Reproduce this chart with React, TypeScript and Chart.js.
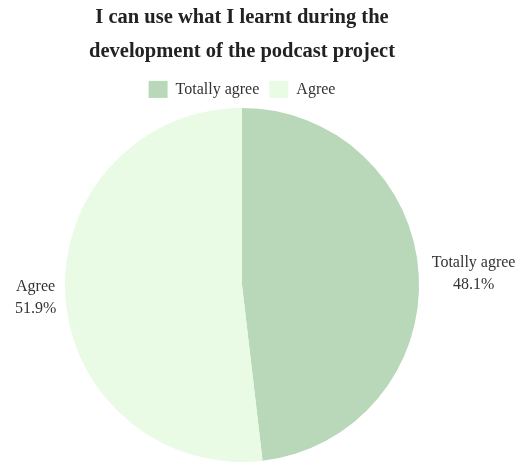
import React, { useEffect, useRef } from "react";
import { Chart, registerables } from "chart.js";

Chart.register(...registerables);

const titleLines = ["I can use what I learnt during the", "development of the podcast project"];
const categories = ["Totally agree", "Agree"];
const counts = [13, 14];
const percentLabels = ["48.1%", "51.9%"];
const colors = ["#b9d7b9", "#e9fbe4"];

const FONT = "'Liberation Serif', 'Times New Roman', serif";

const outsideLabels = {
  id: "outsideLabels",
  afterDatasetsDraw(chart: any) {
    const ctx = chart.ctx;
    const meta = chart.getDatasetMeta(0);
    ctx.save();
    ctx.font = `16px ${FONT}`;
    ctx.fillStyle = "#333333";
    ctx.textBaseline = "middle";
    ctx.textAlign = "center";
    meta.data.forEach((arc: any, i: number) => {
      const mid = (arc.startAngle + arc.endAngle) / 2;
      const right = Math.cos(mid) >= 0;
      const r = arc.outerRadius + (right ? 13 : 9);
      const px = arc.x + Math.cos(mid) * r;
      const py = arc.y + Math.sin(mid) * r;
      const lines = [categories[i], percentLabels[i]];
      const w = Math.max(...lines.map((l) => ctx.measureText(l).width));
      const lh = 22;
      const cx = right ? px + w / 2 : px - w / 2;
      const top = py - (lines.length * lh) / 2 + lh / 2 + (right ? 0 : 2);
      lines.forEach((l, k) => ctx.fillText(l, cx, top + k * lh));
    });
    ctx.restore();
  },
};

export default function App() {
  const ref = useRef<HTMLCanvasElement>(null);
  useEffect(() => {
    const chart = new Chart(ref.current!, {
      type: "pie",
      data: {
        labels: categories,
        datasets: [
          {
            data: counts,
            backgroundColor: colors,
            borderWidth: 0,
          },
        ],
      },
      options: {
        animation: false,
        responsive: true,
        maintainAspectRatio: false,
        layout: { padding: { left: 0, right: 38, top: 0, bottom: 4 } },
        plugins: {
          title: {
            display: true,
            text: titleLines,
            color: "#222222",
            font: { family: FONT, size: 20.5, weight: "bold", lineHeight: 1.68 },
            padding: { top: 0, bottom: 2 },
          },
          legend: {
            display: true,
            position: "top",
            labels: {
              color: "#333333",
              font: { family: FONT, size: 16 },
              boxWidth: 19,
              boxHeight: 17,
              padding: 10,
            },
          },
          tooltip: { enabled: false },
        },
      },
      plugins: [outsideLabels],
    });
    return () => chart.destroy();
  }, []);
  return (
    <div style={{ position: "absolute", left: 0, top: 0, width: 522, height: 466, background: "#ffffff" }}>
      <canvas ref={ref} />
    </div>
  );
}
